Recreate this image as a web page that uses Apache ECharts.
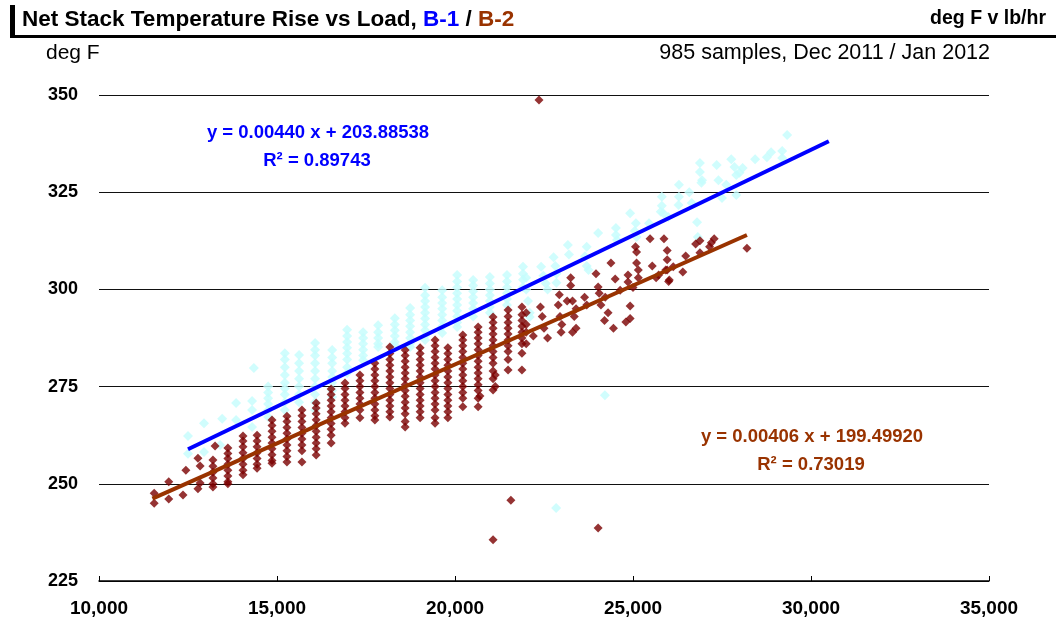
<!DOCTYPE html>
<html>
<head>
<meta charset="utf-8">
<script src="https://cdn.jsdelivr.net/npm/echarts@6/dist/echarts.min.js"></script>
<style>
  html, body { margin: 0; padding: 0; background: #fff; }
  #chart { width: 1056px; height: 620px; }
</style>
</head>
<body>
<div id="chart"></div>
<script>
// load (lb/hr) columns with the stacked temperature readings (deg F)
const b1Columns = [
  [12500, [262.3, 257.7]],
  [12950, [265.6, 258.2]],
  [13400, [260]],
  [13460, [266.7]],
  [13850, [270.8, 266.4]],
  [14300, [271.3, 269, 264.6]],
  [14350, [279.8]],
  [14750, [275, 273.5, 272, 270.5, 269, 267.2]],
  [15220, [283.6, 282, 280, 278, 276, 274.5, 273, 271, 269]],
  [15620, [283.1, 281, 279, 277, 275, 273, 271]],
  [16070, [286.2, 284.5, 283, 281, 279, 277, 275, 273, 271, 269]],
  [16550, [284.4, 282.5, 281, 279, 277.5, 276, 274, 272.3]],
  [16970, [289.6, 288, 286.5, 285, 283.5, 282, 280, 278.5]],
  [17420, [289, 287.5, 286, 284.5, 283, 281.8]],
  [17840, [290.8, 289, 287.5, 286, 285.2]],
  [18310, [292.6, 291, 289.5, 288, 286.5, 285.7]],
  [18740, [295.2, 293.5, 292, 290.5, 289, 287.5, 286, 285.2]],
  [19160, [300.4, 298.5, 297, 295.5, 294, 292.5, 291, 289.5, 288, 287]],
  [19640, [299.8, 298, 296.5, 295, 293.5, 292, 290.5, 288.8]],
  [20060, [303.7, 302, 300.5, 299, 297.5, 296, 294.5, 293, 291.5, 290.3]],
  [20510, [302.4, 301, 299.5, 298, 296.5, 295, 293]],
  [20980, [303.2, 301.5, 300, 298.5, 297, 295.5, 294]],
  [21460, [303.7, 302, 300.5, 299, 297.5, 296]],
  [21910, [305.8, 304, 302.5, 300.6]]
];
const b1Scatter = [
  [22000, 303], [22000, 300], [22050, 297], [22100, 294], [22100, 292.9],
  [22420, 305.8], [22480, 303.5], [22550, 301.5], [22600, 300],
  [22770, 308.3], [22820, 306], [22850, 304], [22850, 301.7],
  [23170, 311.4], [23200, 309],
  [23700, 311], [23650, 308.5], [23700, 306], [23750, 305],
  [24020, 314.5], [24520, 315.8], [24520, 314], [24550, 312.7],
  [24920, 319.6], [25080, 317], [25050, 315], [25100, 313.5], [25450, 317],
  [25810, 323.8], [25810, 321.5], [25850, 319.6], [25780, 320], [25990, 318.6],
  [26290, 326.9], [26290, 323.8], [26280, 321.7], [26580, 325], [26650, 322.2],
  [26800, 317.3], [26820, 313.5],
  [26880, 332.5], [26880, 330.2], [26940, 328.1], [26920, 327.4],
  [27350, 332], [27400, 328.1], [27620, 326.9], [27500, 323.5], [27760, 333.5],
  [27850, 331.5], [27900, 329.4], [27990, 330], [28080, 331.2], [27900, 324.3],
  [28430, 333.5], [28760, 334], [28880, 335.3], [29190, 335.6], [29190, 333.8],
  [29330, 339.7],
  [22840, 243.8], [24210, 272.8]
];

const b2Columns = [
  [11550, [247.6, 245.0]],
  [11960, [250.5, 246.1]],
  [12360, [247.1]],
  [12440, [253.5]],
  [12780, [256.6, 248.7]],
  [12840, [254.6, 250.2]],
  [13200, [256.1, 254.5, 253, 251.5, 250, 249.2]],
  [13260, [259.7]],
  [13620, [259.2, 257.8, 256.5, 255, 253.5, 252, 250.5, 250]],
  [14045, [262.3, 261, 259.5, 258, 256.5, 255, 253.5, 252.3]],
  [14440, [262.5, 261, 259.5, 258, 256.5, 255, 254]],
  [14860, [266.4, 265, 263.5, 262, 260.5, 259, 257.5, 256, 255.3]],
  [15280, [267.4, 266, 264.5, 263, 261.5, 260, 258.5, 257, 255.6]],
  [15700, [269, 267.5, 266, 264.5, 263, 261.5, 260, 258.5, 255.6]],
  [16100, [270.8, 269.5, 268, 266.5, 265, 263.5, 262, 260.5, 259, 257.4]],
  [16520, [274.4, 273, 271.5, 270, 268.5, 267, 265.5, 264, 262.5, 260.5]],
  [16910, [275.9, 274.5, 273, 271.5, 270, 268.5, 267, 265.6]],
  [17330, [278, 276.5, 275, 273.5, 272, 270.5, 269, 267]],
  [17750, [281, 279.5, 278, 276.5, 275, 273.5, 272, 270.5, 269, 267.5, 266.4]],
  [18170, [285.2, 283.5, 282, 280.5, 279, 277.5, 276, 274.5, 273, 271.5, 270, 268.5, 267.2]],
  [18600, [284.4, 283, 281.5, 280, 278.5, 277, 275.5, 274, 272.5, 271, 269.5, 268, 266, 264.6]],
  [19020, [285, 283.5, 282, 280.5, 279, 277.5, 276, 274.5, 273, 271.5, 270, 268.5, 267]],
  [19440, [287, 285.5, 284, 282.5, 281, 279.5, 278, 276.5, 275, 273.5, 272, 270.5, 269, 267, 265.6]],
  [19800, [285, 283.5, 282, 280.5, 279, 277.5, 276, 274.5, 273, 271.5, 270, 268.5, 267]],
  [20220, [288.3, 287, 285.5, 284, 282.5, 281, 279.5, 278, 276.5, 275, 273.5, 272, 269.8]],
  [20650, [290.3, 289, 287.5, 286, 284.5, 283, 281.5, 280, 278.5, 277, 275.5, 274, 272, 269.8]],
  [21070, [292.9, 291.5, 290, 288.5, 287, 285.5, 284, 282.5, 281, 279, 277, 274.1]],
  [21490, [294.7, 293, 291.5, 290, 288.5, 287, 285.5, 284, 282, 279.3]],
  [21880, [295.5, 293.5, 292, 290.5, 289, 287.5, 286, 283.6, 279.3]]
];
const b2Scatter = [
  [20700, 272.6], [21130, 275], [21130, 278],
  [22000, 294], [22000, 291], [22000, 289], [22200, 288], [22000, 286],
  [22400, 295.5], [22450, 293], [22500, 290], [22600, 287.5],
  [22930, 298.6], [22900, 296], [22950, 293], [23000, 291], [22980, 289], [23150, 297],
  [23250, 303], [23250, 301], [23300, 297], [23400, 295], [23350, 293], [23400, 290], [23300, 289],
  [23640, 298], [23700, 296],
  [23960, 304], [24020, 300.6], [24220, 298], [24100, 296], [24300, 294], [24200, 292],
  [24450, 290], [24050, 299],
  [24380, 306.8], [24500, 302.7], [24640, 299.8], [24860, 303.7], [24860, 301.9], [25000, 300.5],
  [24800, 291.6], [24920, 292.5], [24920, 295.7],
  [25070, 311], [25100, 309.6], [25100, 306.8], [25150, 305], [25150, 303],
  [25480, 313], [25540, 306], [25650, 303],
  [25870, 313], [25960, 310], [25960, 307.6], [25960, 305], [26020, 302.4], [26130, 305.8],
  [25920, 305], [25720, 303.7], [26000, 302],
  [26480, 308.6], [26400, 304.5], [26760, 311.7], [26880, 309.4], [26880, 312.5],
  [27200, 312], [27280, 313], [27150, 311],
  [28200, 310.6],
  [22360, 348.7], [21570, 245.8], [21070, 235.6], [24020, 238.6]
];

// linear trend end points
const b1Trend = [[12500, 258.9], [30500, 338.1]];
const b2Trend = [[11500, 246.2], [28200, 314.0]];

const b1Label = ['y = 0.00440 x + 203.88538', 'R\u00b2 = 0.89743'];
const b2Label = ['y = 0.00406 x + 199.49920', 'R\u00b2 = 0.73019'];

function flat(cols, extra) {
  const out = [];
  cols.forEach(c => c[1].forEach(t => out.push([c[0], t])));
  return out.concat(extra);
}

const FONT = "'Liberation Sans', Arial, sans-serif";
const chart = echarts.init(document.getElementById('chart'));

const option = {
  animation: false,
  backgroundColor: '#fff',
  textStyle: { fontFamily: FONT },
  title: {
    text: '{a|Net Stack Temperature Rise vs Load, }{b|B-1}{a| / }{c|B-2}',
    left: 17,
    top: 3,
    textStyle: {
      rich: {
        a: { fontSize: 22.5, fontWeight: 'bold', color: '#000', fontFamily: FONT },
        b: { fontSize: 22.5, fontWeight: 'bold', color: '#0000FF', fontFamily: FONT },
        c: { fontSize: 22.5, fontWeight: 'bold', color: '#993300', fontFamily: FONT }
      }
    }
  },
  grid: { left: 99, right: 67, top: 95, bottom: 39 },
  xAxis: {
    type: 'value',
    min: 10000,
    max: 35000,
    interval: 5000,
    axisLine: { show: true, lineStyle: { color: '#000', width: 1.5 } },
    axisTick: { show: true, inside: true, length: 5, lineStyle: { color: '#000' } },
    splitLine: { show: false },
    axisLabel: {
      color: '#000', fontWeight: 'bold', fontSize: 19, margin: 18, fontFamily: FONT,
      formatter: v => v.toLocaleString('en-US')
    }
  },
  yAxis: {
    type: 'value',
    min: 225,
    max: 350,
    interval: 25,
    axisLine: { show: false },
    axisTick: { show: false },
    splitLine: { show: true, lineStyle: { color: '#111', width: 1.2 } },
    axisLabel: { color: '#000', fontWeight: 'bold', fontSize: 18, margin: 21, fontFamily: FONT }
  },
  series: [
    {
      name: 'B-1',
      type: 'scatter',
      symbol: 'diamond',
      symbolSize: 10,
      itemStyle: { color: '#C4FCFC' },
      data: flat(b1Columns, b1Scatter),
      z: 2
    },
    {
      name: 'B-2',
      type: 'scatter',
      symbol: 'diamond',
      symbolSize: 9,
      itemStyle: { color: '#7A0000' },
      data: flat(b2Columns, b2Scatter),
      z: 3
    },
    {
      name: 'B-1 trend',
      type: 'line',
      data: b1Trend,
      symbol: 'none',
      lineStyle: { color: '#0000FF', width: 4 },
      z: 5
    },
    {
      name: 'B-2 trend',
      type: 'line',
      data: b2Trend,
      symbol: 'none',
      lineStyle: { color: '#993300', width: 4 },
      z: 5
    }
  ],
  graphic: [
    { type: 'rect', shape: { x: 10, y: 5, width: 5, height: 33 }, style: { fill: '#000' } },
    { type: 'rect', shape: { x: 10, y: 35, width: 1046, height: 3 }, style: { fill: '#000' } },
    {
      type: 'text', x: 1046, y: 19,
      style: { text: 'deg F v lb/hr', font: 'bold 19.5px ' + FONT, fill: '#000', textAlign: 'right', textVerticalAlign: 'middle' }
    },
    {
      type: 'text', x: 46, y: 53,
      style: { text: 'deg F', font: '21px ' + FONT, fill: '#000', textAlign: 'left', textVerticalAlign: 'middle' }
    },
    {
      type: 'text', x: 990, y: 53,
      style: { text: '985 samples, Dec 2011 / Jan 2012', font: '21.5px ' + FONT, fill: '#000', textAlign: 'right', textVerticalAlign: 'middle' }
    },
    {
      type: 'text', x: 318, y: 133,
      style: { text: b1Label[0], font: 'bold 18.5px ' + FONT, fill: '#0000FF', textAlign: 'center', textVerticalAlign: 'middle' }
    },
    {
      type: 'text', x: 317, y: 161,
      style: { text: b1Label[1], font: 'bold 18.5px ' + FONT, fill: '#0000FF', textAlign: 'center', textVerticalAlign: 'middle' }
    },
    {
      type: 'text', x: 812, y: 437,
      style: { text: b2Label[0], font: 'bold 18.5px ' + FONT, fill: '#993300', textAlign: 'center', textVerticalAlign: 'middle' }
    },
    {
      type: 'text', x: 811, y: 465,
      style: { text: b2Label[1], font: 'bold 18.5px ' + FONT, fill: '#993300', textAlign: 'center', textVerticalAlign: 'middle' }
    }
  ]
};

chart.setOption(option);
</script>
</body>
</html>
